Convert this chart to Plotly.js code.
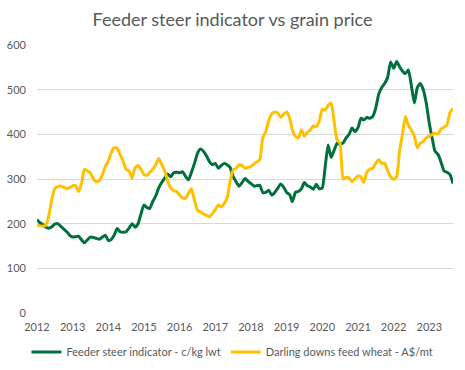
<!DOCTYPE html>
<html>
<head>
<meta charset="utf-8">
<script src="https://cdn.plot.ly/plotly-3.0.1.min.js"></script>
<style>html,body{margin:0;padding:0;background:#fff;}#chart{width:465px;height:370px;}</style>
</head>
<body>
<div id="chart"></div>
<script>
// Monthly observations, Jan 2012 .. Sep 2023
const startYear = 2012;
const startMonth = 1;
const feederSteer = [
209,202,198,192,190,193,199,200,194,188,182,174,
170,171,172,164,157,164,170,169,167,165,170,174,
162,165,174,189,182,181,182,190,200,192,200,222,
242,236,234,250,262,280,292,302,311,305,314,315,
314,316,306,298,315,335,357,367,362,352,339,332,
335,324,330,335,332,326,306,294,284,292,301,295,
290,284,285,286,270,270,275,264,270,279,289,282,
270,265,249,270,272,278,292,285,282,277,288,278,
280,330,376,348,364,380,378,381,392,400,414,406,
415,436,432,438,436,440,458,490,505,514,528,562,
548,563,552,542,536,544,510,470,505,514,500,470,
425,390,362,355,338,318,315,310,290
];
const feedWheat = [
197,195,194,197,218,255,279,283,284,281,279,280,
285,285,272,290,322,318,314,300,294,297,310,328,
340,360,370,369,355,340,322,318,302,325,330,322,
310,308,315,322,332,346,333,318,296,280,274,272,
264,257,257,268,278,253,230,226,222,219,215,222,
232,242,238,245,257,295,320,324,332,330,324,326,
328,334,338,343,392,406,430,446,450,448,438,445,
450,436,410,395,392,410,396,404,410,419,417,430,
456,455,465,470,430,387,380,300,304,302,294,300,
307,305,292,315,322,324,335,343,335,335,318,305,
299,305,360,400,440,420,410,395,370,380,384,392,
396,400,402,401,412,416,421,448,458
];
const seriesNames = ["Feeder steer indicator - c/kg lwt", "Darling downs feed wheat - A$/mt"];
const tickYears = [2012,2013,2014,2015,2016,2017,2018,2019,2020,2021,2022,2023];

function monthDate(i){
  const m0 = (startMonth - 1) + i;
  const y = startYear + Math.floor(m0 / 12);
  const m = (m0 % 12) + 1;
  return y + "-" + (m < 10 ? "0" + m : m) + "-01";
}
const dates = feederSteer.map((_, i) => monthDate(i));

const font = "Lato, 'Open Sans', sans-serif";
const grey = "#595959";

const traces = [
  {x: dates, y: feederSteer, name: seriesNames[0], type: "scatter", mode: "lines",
   line: {color: "#00703C", width: 3, shape: "spline", smoothing: 0.5}},
  {x: dates, y: feedWheat, name: seriesNames[1], type: "scatter", mode: "lines",
   line: {color: "#FFC000", width: 3, shape: "spline", smoothing: 0.5}}
];

const layout = {
  width: 465, height: 370,
  margin: {l: 37, r: 12, t: 45, b: 57},
  paper_bgcolor: "#fff", plot_bgcolor: "#fff",
  font: {family: font, color: grey, size: 11},
  title: {text: "Feeder steer indicator vs grain price", font: {family: font, size: 18, color: grey},
          x: 0.5, xanchor: "center", y: 1 - 20/370, yanchor: "middle", yref: "container"},
  xaxis: {type: "date", range: [monthDate(0), monthDate(feederSteer.length - 1)],
          tickvals: tickYears.map(y => y + "-01-01"), ticktext: tickYears.map(String),
          showgrid: false, zeroline: false, showline: false, ticks: "", ticklabelstandoff: 6,
          tickfont: {family: font, size: 11, color: grey}, fixedrange: true},
  yaxis: {range: [0, 600], tickvals: [0,100,200,300,400,500,600], showgrid: true,
          gridcolor: "#d9d9d9", gridwidth: 1, zeroline: false, showline: false, ticks: "",
          ticklabelstandoff: 10, tickfont: {family: font, size: 11, color: grey}, fixedrange: true},
  showlegend: true,
  legend: {orientation: "h", x: 0.5, xanchor: "center", xref: "container",
           y: 1 - 352/370, yanchor: "middle", yref: "container",
           font: {family: font, size: 11, color: grey}, itemwidth: 30, tracegroupgap: 0}
};

Plotly.newPlot("chart", traces, layout, {displayModeBar: false, staticPlot: true});
</script>
</body>
</html>
